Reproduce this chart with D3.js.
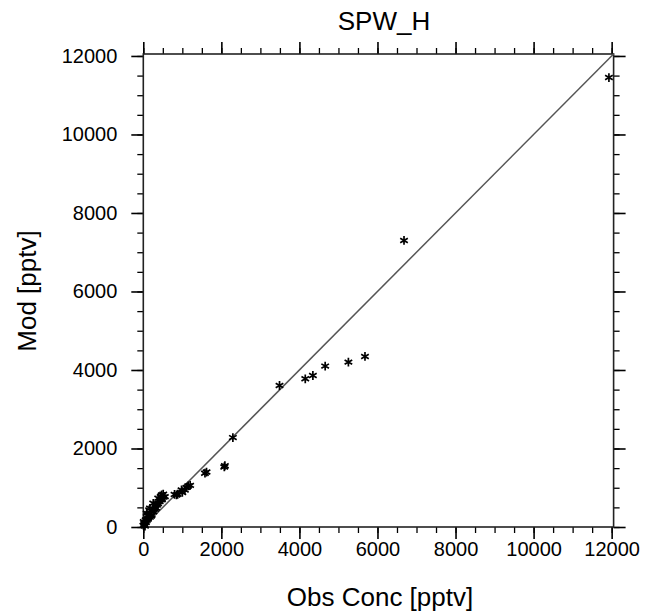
<!doctype html>
<html lang="en">
  <head>
    <meta charset="utf-8" />
    <title>SPW_H</title>
    <style>
      body { margin: 0; background: #fff; }
      text { font-family: "Liberation Sans", Arial, Helvetica, sans-serif; fill: #000; }
    </style>
  </head>
  <body>
    <div id="my_dataviz"></div>
    <script src="https://d3js.org/d3.v7.min.js"></script>
    <script>
// values
var obs = [11930, 6680, 5680, 5255, 4660, 4345, 4150, 3490, 2295, 2090, 2075,
           1620, 1580, 1200, 1150, 1105, 1065, 1000, 980, 880, 850, 800,
           553, 520, 510, 480, 470, 450, 443, 420, 383, 380, 350, 330, 300, 300,
           260, 255, 214, 200, 171, 170, 150, 120, 110, 90, 87, 70, 60, 43, 30, 25, 10, 5];
var mod = [11450, 7300, 4345, 4200, 4100, 3860, 3776, 3605, 2278, 1560, 1530,
           1400, 1370, 1060, 1046, 1010, 944, 880, 944, 834, 816, 830,
           773, 760, 834, 700, 816, 690, 773, 650, 732, 600, 560, 480, 520, 450,
           390, 604, 306, 280, 477, 250, 434, 200, 300, 170, 349, 120, 180, 26, 60, 94, 135, 40];
var ticks = [0, 2000, 4000, 6000, 8000, 10000, 12000];
var axisMax = 12050;
var title = "SPW_H", xTitle = "Obs Conc [pptv]", yTitle = "Mod [pptv]";

var W = 645, H = 616;
var margin = {left: 143.3, right: 645 - 613.6, top: 54, bottom: 616 - 527};

var svg = d3.select("#my_dataviz").append("svg")
    .attr("width", W).attr("height", H);

var x = d3.scaleLinear().domain([0, axisMax]).range([margin.left, W - margin.right]);
var y = d3.scaleLinear().domain([0, axisMax]).range([H - margin.bottom, margin.top]);

var minor = d3.range(0, 12001, 500);
var bot = H - margin.bottom, lft = margin.left, rgt = W - margin.right, tp = margin.top;

// minor ticks, pointing outward on all four sides
function ax(gen, tr) {
  var g = svg.append("g").attr("transform", tr);
  g.call(gen.tickValues(minor).tickSize(6).tickFormat(""));
  g.selectAll(".tick line").attr("stroke", "#000").attr("stroke-width", 1.3);
  g.select(".domain").remove();
  return g;
}
ax(d3.axisBottom(x), "translate(0," + bot + ")");
ax(d3.axisTop(x), "translate(0," + tp + ")");
ax(d3.axisLeft(y), "translate(" + lft + ",0)");
ax(d3.axisRight(y), "translate(" + rgt + ",0)");

// major ticks with labels
var gb = svg.append("g").attr("transform", "translate(0," + bot + ")")
  .call(d3.axisBottom(x).tickValues(ticks).tickSize(12).tickPadding(3).tickFormat(d3.format("d")));
var gt = svg.append("g").attr("transform", "translate(0," + tp + ")")
  .call(d3.axisTop(x).tickValues(ticks).tickSize(12).tickFormat(""));
var gl = svg.append("g").attr("transform", "translate(" + lft + ",0)")
  .call(d3.axisLeft(y).tickValues(ticks).tickSize(12).tickPadding(14).tickFormat(d3.format("d")));
var gr = svg.append("g").attr("transform", "translate(" + rgt + ",0)")
  .call(d3.axisRight(y).tickValues(ticks).tickSize(12).tickFormat(""));
[gb, gt, gl, gr].forEach(function(g) {
  g.select(".domain").remove();
  g.selectAll(".tick line").attr("stroke", "#000").attr("stroke-width", 1.6);
  g.selectAll(".tick text").style("font-size", "20px").attr("fill", "#000");
});

// frame
svg.append("rect")
  .attr("x", lft).attr("y", tp)
  .attr("width", rgt - lft).attr("height", bot - tp)
  .attr("fill", "none").attr("stroke", "#222").attr("stroke-width", 1.6);

// 1:1 line
svg.append("line")
  .attr("x1", x(0)).attr("y1", y(0))
  .attr("x2", x(axisMax)).attr("y2", y(axisMax))
  .attr("stroke", "#555").attr("stroke-width", 1.5);

// asterisk markers
var r = 4.4;
var star = "";
[90, 30, -30].forEach(function(a) {
  var c = Math.cos(a * Math.PI / 180) * r, s = Math.sin(a * Math.PI / 180) * r;
  star += "M" + (-c) + "," + (-s) + "L" + c + "," + s;
});
svg.append("g").selectAll("path")
  .data(obs.map(function(d, i) { return [d, mod[i]]; }))
  .enter().append("path")
    .attr("d", star)
    .attr("transform", function(d) { return "translate(" + x(d[0]) + "," + y(d[1]) + ")"; })
    .attr("stroke", "#000").attr("stroke-width", 1.7).attr("fill", "none");

// titles
svg.append("text").attr("x", 384).attr("y", 30)
  .attr("text-anchor", "middle").style("font-size", "26px").text(title);
svg.append("text").attr("x", 380).attr("y", 606)
  .attr("text-anchor", "middle").style("font-size", "26px").text(xTitle);
svg.append("text").attr("transform", "translate(36,291) rotate(-90)")
  .attr("text-anchor", "middle").style("font-size", "26px").text(yTitle);
    </script>
  </body>
</html>
